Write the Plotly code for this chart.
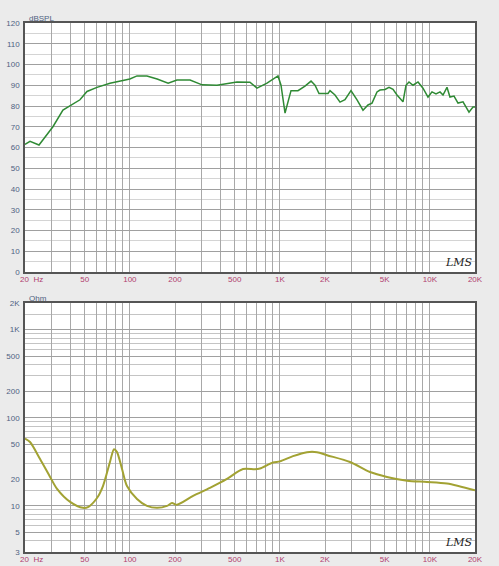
import plotly.graph_objects as go
import numpy as np

# ---- data ----
spl_freq = [20, 21.6, 24.8, 30.7, 35.8, 46.5, 51.8, 60.4, 73.7, 90, 100, 111.6, 130, 152, 180,
            206, 252, 303, 381, 518, 632, 704, 821, 972, 1018, 1083, 1187, 1321, 1471, 1614,
            1716, 1824, 2094, 2160, 2332, 2518, 2718, 2980, 3270, 3584, 3870, 4116, 4444, 4652,
            5024, 5343, 5682, 6040, 6622, 6934, 7261, 7722, 8340, 9003, 9720, 10337, 10990,
            11690, 12240, 13010, 13620, 14490, 15410, 16640, 17420, 18240, 19390, 20000]
spl_db = [61.5, 63.0, 61.2, 70.0, 78.0, 83.0, 87.0, 89.0, 91.0, 92.5, 93.0, 94.5, 94.5, 93.0, 91.0,
          92.5, 92.5, 90.2, 90.0, 91.6, 91.5, 88.6, 91.0, 94.5, 90.0, 76.6, 87.4, 87.4, 89.6, 92.0,
          90.0, 86.0, 86.0, 87.4, 85.3, 81.9, 83.0, 87.4, 83.0, 78.0, 80.5, 81.4, 86.8, 87.7,
          88.0, 89.0, 88.0, 85.3, 82.0, 90.0, 91.6, 90.0, 91.6, 88.6, 84.3, 86.8, 85.8,
          86.8, 85.3, 89.0, 84.3, 84.8, 81.4, 82.0, 79.5, 77.0, 79.5, 79.5]

imp_freq = [20, 21.6, 25.2, 29.4, 32.7, 40, 48.7, 52.6, 60.4, 66.2, 73.7, 78.4, 82.1, 88.7, 95.7,
            111.6, 130, 152, 177, 191, 206, 264, 342, 444, 568, 683, 737, 900, 1002, 1224,
            1517, 1768, 2062, 2936, 3990, 5180, 7045, 9572, 13010, 20000]
imp_ohm = [58, 53, 34, 21.3, 15.6, 11.1, 9.5, 9.7, 12.3, 16.8, 31.5, 44, 40.7, 26.2, 16.8,
           12.0, 10.0, 9.5, 10.0, 10.8, 10.3, 13.0, 16.0, 20.2, 26.2, 26.0, 26.5, 31.0, 32.0, 36.7,
           40.7, 40.7, 37.6, 31.5, 24.2, 21.3, 19.3, 18.7, 17.9, 15.0]

x_tickvals = [20, 30, 40, 50, 60, 70, 80, 90, 100, 200, 300, 400, 500, 600, 700, 800, 900,
              1000, 2000, 3000, 4000, 5000, 6000, 7000, 8000, 9000, 10000, 20000]
x_labels = {20: "\u00a0\u00a0\u00a0\u00a0\u00a0\u00a020\u00a0\u00a0Hz", 50: "50", 100: "100",
            200: "200", 500: "500", 1000: "1K", 2000: "2K", 5000: "5K", 10000: "10K", 20000: "20K"}
x_ticktext = [x_labels.get(v, "") for v in x_tickvals]

spl_major = list(range(0, 121, 10))
spl_minor = list(range(5, 120, 10))

imp_major = [3, 5, 10, 20, 50, 100, 200, 500, 1000, 2000]
imp_major_text = ["3", "5", "10", "20", "50", "100", "200", "500", "1K", "2K"]
imp_minor = [4, 6, 7, 8, 9, 15, 30, 40, 60, 70, 80, 90, 150, 300, 400, 600, 700, 800, 900, 1500]

W, H = 499, 566
xl, xr = 25 / W, 475 / W
top_dom = [(H - 272) / H, (H - 23) / H]
bot_dom = [(H - 552) / H, (H - 303) / H]

tick_font_x = dict(family="Liberation Sans, Arial", size=8, color="#b0406e")
tick_font_y = dict(family="Liberation Sans, Arial", size=8, color="#4f6282")

fig = go.Figure()
fig.add_trace(go.Scatter(x=spl_freq, y=spl_db, mode="lines",
                         line=dict(color="#2f8a34", width=1.5), xaxis="x", yaxis="y",
                         showlegend=False))
fig.add_trace(go.Scatter(x=imp_freq, y=imp_ohm, mode="lines",
                         line=dict(color="#a2a233", width=2, shape="spline", smoothing=0.8),
                         xaxis="x2", yaxis="y2", showlegend=False))

xcommon = dict(type="log", range=[np.log10(20), np.log10(20000)], tickmode="array",
               tickvals=x_tickvals, ticktext=x_ticktext, showgrid=True, gridcolor="#a8a8a8",
               gridwidth=1, showline=True, linecolor="#555555", linewidth=1.5, mirror=True,
               ticks="", tickfont=tick_font_x, zeroline=False, domain=[xl, xr],
               automargin=False, ticklabelstandoff=-1)

fig.update_layout(
    width=W, height=H, autosize=False,
    margin=dict(l=0, r=0, t=0, b=0, pad=0),
    paper_bgcolor="#ebebeb", plot_bgcolor="#ffffff",
    xaxis=dict(**xcommon, anchor="y"),
    yaxis=dict(range=[0, 120], domain=top_dom, tickmode="array", tickvals=spl_major,
               showgrid=True, gridcolor="#a0a0a0", gridwidth=1,
               minor=dict(tickvals=spl_minor, showgrid=True, gridcolor="#d4d4d4", gridwidth=1),
               showline=True, linecolor="#555555", linewidth=1.5, mirror=True, ticks="",
               tickfont=tick_font_y, zeroline=False, anchor="x", automargin=False,
               ticklabelstandoff=2),
    xaxis2=dict(**xcommon, anchor="y2"),
    yaxis2=dict(type="log", range=[np.log10(3), np.log10(2000)], domain=bot_dom,
                tickmode="array", tickvals=imp_major, ticktext=imp_major_text,
                showgrid=True, gridcolor="#a0a0a0", gridwidth=1,
                minor=dict(tickvals=imp_minor, showgrid=True, gridcolor="#c4c4c4", gridwidth=1),
                showline=True, linecolor="#555555", linewidth=1.5, mirror=True, ticks="",
                tickfont=tick_font_y, zeroline=False, anchor="x2", automargin=False,
                ticklabelstandoff=2),
    annotations=[
        dict(text="dBSPL", xref="paper", yref="paper", x=27 / W, y=(H - 18) / H,
             xanchor="left", yanchor="middle", showarrow=False,
             font=dict(family="Liberation Sans, Arial", size=8, color="#4f6282")),
        dict(text="Ohm", xref="paper", yref="paper", x=27 / W, y=(H - 298) / H,
             xanchor="left", yanchor="middle", showarrow=False,
             font=dict(family="Liberation Sans, Arial", size=8, color="#4f6282")),
        dict(text="<i>LMS</i>", xref="paper", yref="paper", x=459 / W, y=(H - 262) / H,
             xanchor="center", yanchor="middle", showarrow=False,
             font=dict(family="DejaVu Serif", size=11, color="#222222")),
        dict(text="<i>LMS</i>", xref="paper", yref="paper", x=459 / W, y=(H - 542) / H,
             xanchor="center", yanchor="middle", showarrow=False,
             font=dict(family="DejaVu Serif", size=11, color="#222222")),
    ],
)

fig.write_html(
    "out.html",
    config={"displayModeBar": False},
    post_script="document.body.style.margin='0';document.body.style.background='#ebebeb';",
)
